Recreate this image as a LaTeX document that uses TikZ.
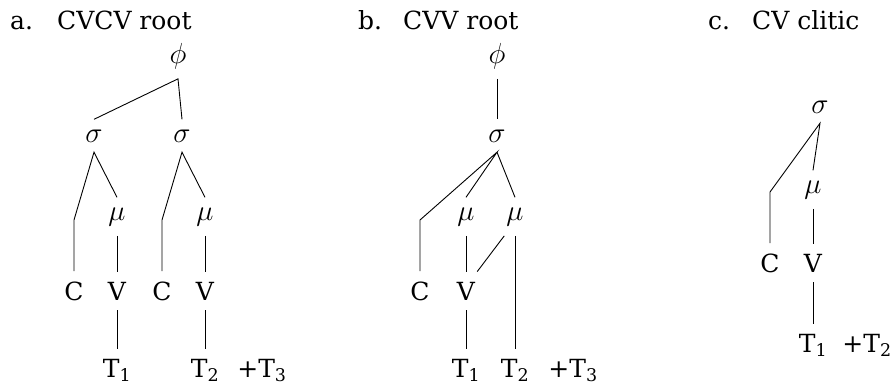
\RequirePackage{fix-cm}
\documentclass[tikz,border=0pt]{standalone}
\usepackage{fontspec}
\setmainfont{DejaVu Serif}
\usetikzlibrary{positioning}

\begin{document}
\begin{tikzpicture}[
  x=1pt, y=-1pt,
  seg/.style={font=\fontsize{25}{30}\selectfont, inner xsep=2pt, inner ysep=10pt, anchor=base},
  grk/.style={seg, font=\fontsize{29}{34}\selectfont},
  ttl/.style={font=\fontsize{25}{30}\selectfont, inner sep=0pt, anchor=base west},
  lnk/.style={line width=0.9pt}
]
  \useasboundingbox (0,0) rectangle (896,388);

  % titles
  \node[ttl] (ttlA) at (10,29) {a.};
  \node[ttl] (ttlAt) at (57,29) {CVCV root};
  \node[ttl] (ttlB) at (358,29) {b.};
  \node[ttl] (ttlBt) at (403,29) {CVV root};
  \node[ttl] (ttlC) at (708,29) {c.};
  \node[ttl] (ttlCt) at (752,29) {CV clitic};

  % a. CVCV root
  \node[grk] (phiA) at (178,63) {$\phi$};
  \node[grk] (sgA1) at (94,142) {$\sigma$};
  \node[grk] (sgA2) at (182,142) {$\sigma$};
  \node[grk] (muA1) at (117,220) {$\mu$};
  \node[grk] (muA2) at (205,220) {$\mu$};
  \node[seg] (cA1) at (74,300) {C};
  \node[seg] (vA1) at (117,300) {V};
  \node[seg] (cA2) at (162,300) {C};
  \node[seg] (vA2) at (205,300) {V};
  \node[seg] (tA1) at (117,377) {T\textsubscript{1}};
  \node[seg] (tA2) at (205,377) {T\textsubscript{2}};
  \node[seg] (tA3) at (262,377) {+T\textsubscript{3}};
  \coordinate (kA1) at (74,220);
  \coordinate (kA2) at (162,220);

  \draw[lnk] (sgA1.north) -- (phiA.south) -- (sgA2.north);
  \draw[lnk] (cA1.north) -- (kA1) -- (sgA1.south) -- (muA1.north);
  \draw[lnk] (cA2.north) -- (kA2) -- (sgA2.south) -- (muA2.north);
  \draw[lnk] (muA1.south) -- (vA1.north);
  \draw[lnk] (muA2.south) -- (vA2.north);
  \draw[lnk] (vA1.south) -- (tA1.north);
  \draw[lnk] (vA2.south) -- (tA2.north);

  % b. CVV root
  \node[grk] (phiB) at (497,63) {$\phi$};
  \node[grk] (sgB) at (497,142) {$\sigma$};
  \node[grk] (muB1) at (466,220) {$\mu$};
  \node[grk] (muB2) at (515,220) {$\mu$};
  \node[seg] (cB) at (420,300) {C};
  \node[seg] (vB) at (466,300) {V};
  \node[seg] (tB1) at (466,377) {T\textsubscript{1}};
  \node[seg] (tB2) at (515,377) {T\textsubscript{2}};
  \node[seg] (tB3) at (573,377) {+T\textsubscript{3}};
  \coordinate (kB) at (420,220);

  \draw[lnk] (phiB.south) -- (sgB.north);
  \draw[lnk] (cB.north) -- (kB) -- (sgB.south) -- (muB1.north);
  \draw[lnk] (sgB.south) -- (muB2.north);
  \draw[lnk] (muB1.south) -- (vB.north);
  \draw[lnk] (muB2.south west) -- (vB.north east);
  \draw[lnk] (muB2.south) -- (tB2.north);
  \draw[lnk] (vB.south) -- (tB1.north);

  % c. CV clitic
  \node[grk] (sgC) at (820,113) {$\sigma$};
  \node[grk] (muC) at (813,193) {$\mu$};
  \node[seg] (cC) at (770,272) {C};
  \node[seg] (vC) at (813,272) {V};
  \node[seg] (tC1) at (813,352) {T\textsubscript{1}};
  \node[seg] (tC2) at (867,352) {+T\textsubscript{2}};
  \coordinate (kC) at (770,192);

  \draw[lnk] (cC.north) -- (kC) -- (sgC.south) -- (muC.north);
  \draw[lnk] (muC.south) -- (vC.north);
  \draw[lnk] (vC.south) -- (tC1.north);
\end{tikzpicture}
\end{document}
